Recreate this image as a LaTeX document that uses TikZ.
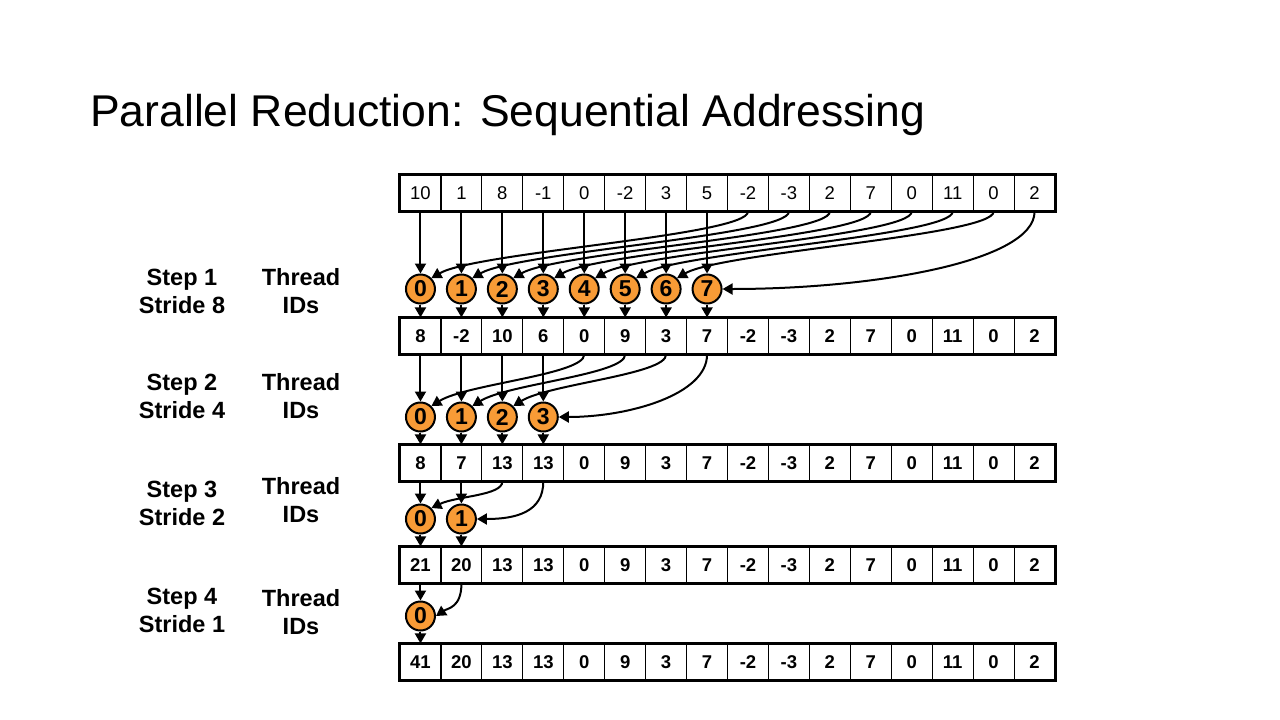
\documentclass[tikz,border=0pt]{standalone}
\usepackage{fontspec}
\setmainfont{Liberation Sans}
\usetikzlibrary{arrows.meta, positioning, calc}
\definecolor{threadorange}{HTML}{F89B36}
\tikzset{
    cell/.style={rectangle, draw=black, line width=1.2pt, minimum width=40.94pt, minimum height=36pt, inner sep=0pt, font=\fontsize{18.5}{20}\selectfont},
    boldcell/.style={cell, font=\fontsize{18.5}{20}\selectfont\bfseries},
    tid/.style={circle, draw=black, line width=2pt, fill=threadorange, minimum size=29pt, inner sep=0pt, font=\fontsize{23}{24}\selectfont\bfseries},
    arrow/.style={-{Triangle[length=10pt,width=11pt]}, line width=2pt, draw=black},
    frame/.style={draw=black, line width=3.2pt},
    steplabel/.style={align=center, font=\fontsize{23.5}{28}\selectfont\bfseries}
}

\begin{document}
\begin{tikzpicture}[x=1pt, y=-1pt]
        \useasboundingbox (0,0) rectangle (1280,720);
        \node[anchor=base west, inner sep=0pt, font=\fontsize{44.5}{50}\selectfont] (title) at (90,126) {Parallel Reduction: Sequential Addressing};
        % the five arrays
        \foreach \v [count=\i from 0] in {10,1,8,-1,0,-2,3,5,-2,-3,2,7,0,11,0,2}
            \node[cell] (r0c\i) at ({420.47+40.94*\i},193) {\v};
        \foreach \v [count=\i from 0] in {8,-2,10,6,0,9,3,7,-2,-3,2,7,0,11,0,2}
            \node[boldcell] (r1c\i) at ({420.47+40.94*\i},336) {\v};
        \foreach \v [count=\i from 0] in {8,7,13,13,0,9,3,7,-2,-3,2,7,0,11,0,2}
            \node[boldcell] (r2c\i) at ({420.47+40.94*\i},463) {\v};
        \foreach \v [count=\i from 0] in {21,20,13,13,0,9,3,7,-2,-3,2,7,0,11,0,2}
            \node[boldcell] (r3c\i) at ({420.47+40.94*\i},565) {\v};
        \foreach \v [count=\i from 0] in {41,20,13,13,0,9,3,7,-2,-3,2,7,0,11,0,2}
            \node[boldcell] (r4c\i) at ({420.47+40.94*\i},662) {\v};
        \foreach \r in {0,...,4}
            \draw[frame] (r\r c0.north west) rectangle (r\r c15.south east);
        % thread ids
        \foreach \i in {0,...,7}
            \node[tid] (s1t\i) at ({420.47+40.94*\i},289) {\i};
        \foreach \i in {0,...,3}
            \node[tid] (s2t\i) at ({420.47+40.94*\i},417) {\i};
        \foreach \i in {0,1}
            \node[tid] (s3t\i) at ({420.47+40.94*\i},519) {\i};
        \node[tid] (s4t0) at (420.47,616) {0};
        % labels
        \node[steplabel] (step1) at (182,291) {Step 1\\Stride 8};
        \node[steplabel] (ids1) at (301,291) {Thread\\IDs};
        \node[steplabel] (step2) at (182,396) {Step 2\\Stride 4};
        \node[steplabel] (ids2) at (301,396) {Thread\\IDs};
        \node[steplabel] (step3) at (182,503) {Step 3\\Stride 2};
        \node[steplabel] (ids3) at (301,500) {Thread\\IDs};
        \node[steplabel] (step4) at (182,610) {Step 4\\Stride 1};
        \node[steplabel] (ids4) at (301,612) {Thread\\IDs};
        % step 1
        \foreach \i in {0,...,7} {
            \draw[arrow] (r0c\i.south) -- (s1t\i.north);
            \draw[arrow] (s1t\i.south) -- (r1c\i.north);
        }
        \foreach \i in {0,...,6} {
            \pgfmathtruncatemacro\j{\i+8}
            \draw[arrow] (r0c\j.south) .. controls +(0,24) and +(45,-26) .. (s1t\i.north east);
        }
        \draw[arrow] (r0c15.south) .. controls +(0,50) and +(150,0) .. (s1t7.east);
        % step 2
        \foreach \i in {0,...,2} {
            \pgfmathtruncatemacro\j{\i+4}
            \draw[arrow] (r1c\j.south) .. controls +(0,20) and +(35,-22) .. (s2t\i.north east);
        }
        \draw[arrow] (r1c7.south) .. controls +(0,40) and +(70,0) .. (s2t3.east);
        \foreach \i in {0,...,3} {
            \draw[arrow] (r1c\i.south) -- (s2t\i.north);
            \draw[arrow] (s2t\i.south) -- (r2c\i.north);
        }
        % step 3
        \draw[arrow] (r2c2.south) .. controls +(0,14) and +(25,-12) .. (s3t0.north east);
        \draw[arrow] (r2c3.south) .. controls +(0,30) and +(40,0) .. (s3t1.east);
        \foreach \i in {0,1} {
            \draw[arrow] (r2c\i.south) -- (s3t\i.north);
            \draw[arrow] (s3t\i.south) -- (r3c\i.north);
        }
        % step 4
        \draw[arrow] (r3c0.south) -- (s4t0.north);
        \draw[arrow] (s4t0.south) -- (r4c0.north);
        \draw[arrow] (r3c1.south) .. controls +(0,24) and +(12,-8) .. (s4t0.east);
    \end{tikzpicture}
\end{document}
